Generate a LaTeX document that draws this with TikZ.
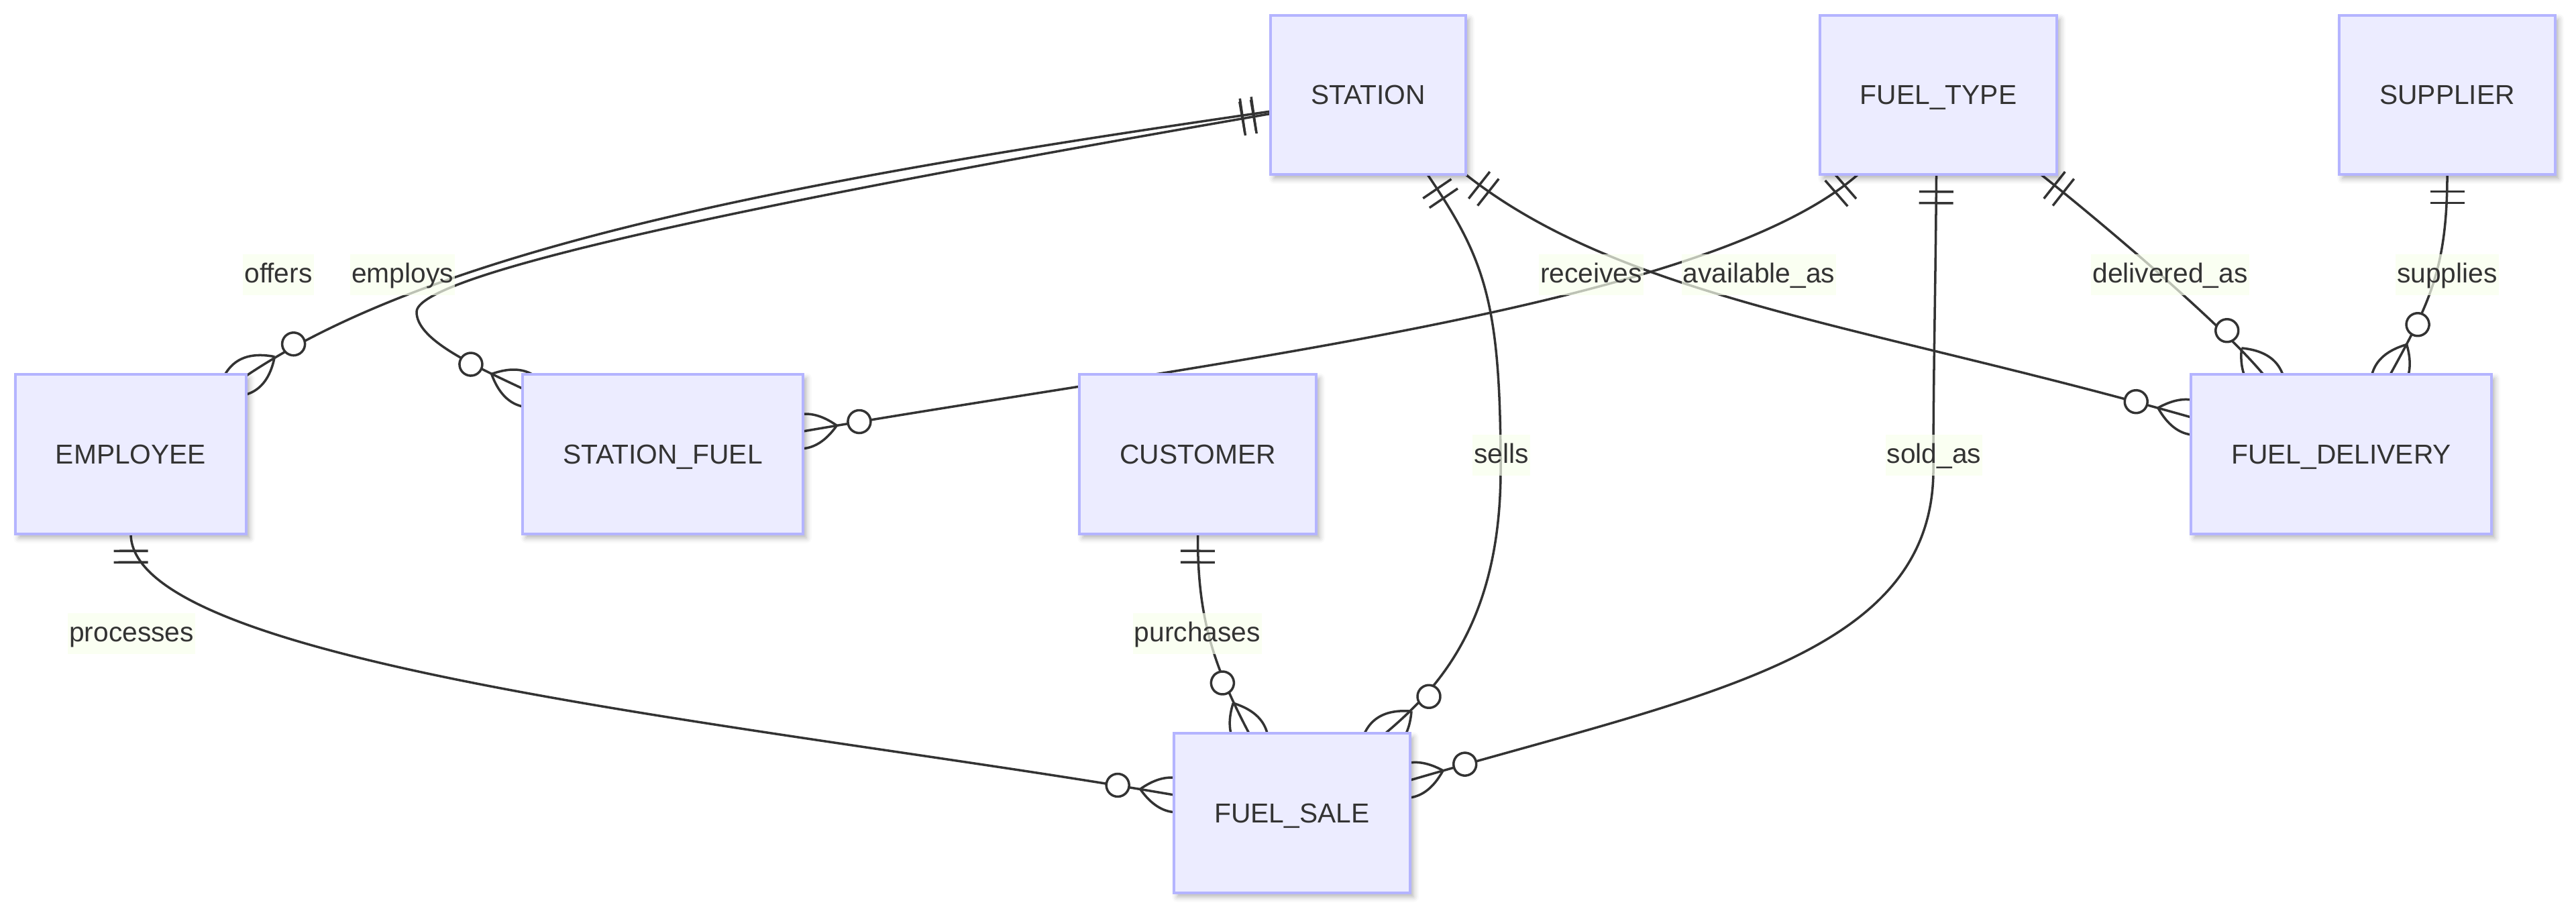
\documentclass[tikz,border=0pt]{standalone}
\usepackage{fontspec}
\setmainfont{Liberation Sans}
\usepackage{tikz}
\usetikzlibrary{decorations.markings, backgrounds, shadows.blur}
\definecolor{boxfill}{RGB}{236,236,255}
\definecolor{boxline}{RGB}{180,180,255}
\definecolor{ink}{RGB}{51,51,51}
\definecolor{lblfill}{RGB}{248,255,237}
\newcommand*{\erfont}{\fontsize{11.6pt}{13.5pt}\selectfont}
\newcommand*{\onebar}{\draw[rel] (0.255,-0.255) -- (0.255,0.255) (0.425,-0.255) -- (0.425,0.255);}
\newcommand*{\crowft}{\draw[rel] (-0.51,0) .. controls (-0.17,0.34) and (0.17,0.34) .. (0.51,0) .. controls (0.17,-0.34) and (-0.17,-0.34) .. (-0.51,0); \draw[rel,fill=white] (-0.85,0) circle (0.17);}
\tikzset{
 ent/.style={draw=boxline, fill=boxfill, line width=1.1pt, minimum width=#1, minimum height=2.375cm, inner sep=0pt, outer sep=0pt, text=ink, font=\erfont, text height=0.29cm, text depth=0cm, blur shadow={shadow xshift=0.05cm, shadow yshift=-0.06cm, shadow blur radius=0.08cm, shadow opacity=30}},
 rel/.style={draw=ink, line width=1pt},
 onemany/.style={rel, postaction={decorate, decoration={markings, mark=at position 0 with {\onebar}, mark=at position 0.9999 with {\crowft}}}},
 lbl/.style={fill=lblfill, fill opacity=0.7, text opacity=1, text=ink, font=\erfont, inner xsep=0.02cm, inner ysep=0.13cm, text height=0.29cm, text depth=0.06cm}
}

\begin{document}
\begin{tikzpicture}
 \useasboundingbox (0,0) rectangle (38.4,-13.58);
 \node[ent=2.91cm] (ST) at (20.395,-1.415) {STATION};
 \node[ent=3.53cm] (FT) at (28.895,-1.415) {FUEL\_TYPE};
 \node[ent=3.22cm] (SP) at (36.48,-1.415) {SUPPLIER};
 \node[ent=3.44cm] (EM) at (1.95,-6.77) {EMPLOYEE};
 \node[ent=4.18cm] (SF) at (9.88,-6.77) {STATION\_FUEL};
 \node[ent=3.53cm] (CU) at (17.855,-6.77) {CUSTOMER};
 \node[ent=4.48cm] (FD) at (34.90,-6.77) {FUEL\_DELIVERY};
 \node[ent=3.52cm] (FS) at (19.26,-12.12) {FUEL\_SALE};

 \begin{pgfonlayer}{background}
 \draw[onemany] ([yshift=-0.245cm]ST.west) .. controls (12.01,-2.664) and (6.575,-3.65) .. ([yshift=-0.02cm]EM.north east);
 \draw[onemany] ([yshift=-0.28cm]ST.west) .. controls (14.015,-2.55) and (6.21,-3.95) .. (6.21,-4.65) .. controls (6.21,-5.05) and (6.975,-5.41) .. ([yshift=-0.21cm]SF.north west);
 \draw[onemany] (ST.south east) .. controls (24.205,-4.46) and (27.85,-4.85) .. ([yshift=0.55cm]FD.west);
 \draw[onemany] ([xshift=-1.2cm]FT.south) .. controls (25.43,-4.58) and (17.88,-5.41) .. ([yshift=0.34cm]SF.east);
 \draw[onemany] ([xshift=1.53cm]FT.south) .. controls (31.22,-3.23) and (33.10,-4.81) .. ([xshift=-1.16cm]FD.north);
 \draw[onemany] (SP.south) .. controls (36.48,-4.00) and (36.21,-4.53) .. ([xshift=0.73cm]FD.north);
 \draw[onemany] ([xshift=0.885cm]ST.south) .. controls (22.135,-3.86) and (22.37,-4.50) .. (22.37,-7.00) .. controls (22.37,-9.30) and (21.41,-10.29) .. ([xshift=1.39cm]FS.north);
 \draw[onemany] ([xshift=-0.03cm]FT.south) .. controls (28.85,-4.50) and (28.82,-5.50) .. (28.82,-7.00) .. controls (28.82,-9.80) and (25.35,-10.366) .. ([yshift=0.49cm]FS.east);
 \draw[onemany] (CU.south) .. controls (17.85,-9.16) and (18.06,-9.87) .. ([xshift=-0.64cm]FS.north);
 \draw[onemany] (EM.south) .. controls (1.95,-9.95) and (11.60,-10.83) .. ([yshift=0.27cm]FS.west);
 \end{pgfonlayer}

 \node[lbl] (L1) at (4.15,-4.10) {offers};
 \node[lbl] (L2) at (6.00,-4.10) {employs};
 \node[lbl] (L3) at (23.72,-4.10) {receives};
 \node[lbl] (L4) at (26.22,-4.10) {available\_as};
 \node[lbl] (L5) at (32.35,-4.10) {delivered\_as};
 \node[lbl] (L6) at (36.48,-4.10) {supplies};
 \node[lbl] (L7) at (22.38,-6.79) {sells};
 \node[lbl] (L8) at (28.83,-6.79) {sold\_as};
 \node[lbl] (L9) at (17.85,-9.45) {purchases};
 \node[lbl] (L10) at (1.96,-9.45) {processes};
\end{tikzpicture}
\end{document}
